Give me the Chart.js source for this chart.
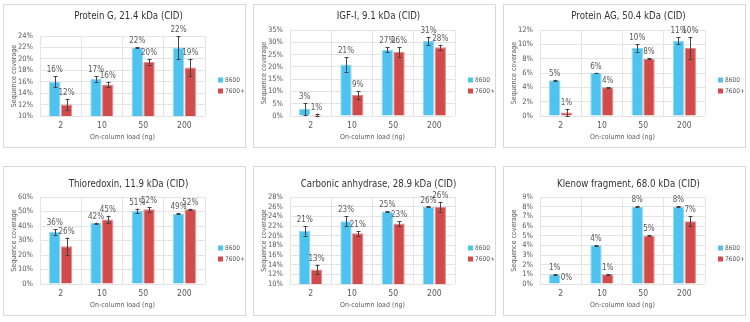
<!DOCTYPE html>
<html>
<head>
<meta charset="utf-8">
<script src="https://cdn.jsdelivr.net/npm/chart.js@4.4.0/dist/chart.umd.min.js"></script>
<style>
  body { margin: 0; background: #fff; width: 750px; height: 322px; position: relative; overflow: hidden; }
  .card { position: absolute; width: 243px; border: 1px solid #d9d9d9; box-sizing: border-box; }
  .card canvas { position: absolute; left: -1px; top: -1px; }
</style>
</head>
<body>
<div class="card" style="left:3px;top:4px;height:144px"><canvas id="c1" width="243" height="144"></canvas></div>
<div class="card" style="left:253px;top:4px;height:144px"><canvas id="c2" width="243" height="144"></canvas></div>
<div class="card" style="left:503px;top:4px;height:144px"><canvas id="c3" width="243" height="144"></canvas></div>
<div class="card" style="left:3px;top:166px;height:150px"><canvas id="c4" width="243" height="150"></canvas></div>
<div class="card" style="left:253px;top:166px;height:150px"><canvas id="c5" width="243" height="150"></canvas></div>
<div class="card" style="left:503px;top:166px;height:150px"><canvas id="c6" width="243" height="150"></canvas></div>
<script>
// categories
const loads = ['2', '10', '50', '200'];
const seriesNames = ['8600', '7600+'];

// Protein G
const proteinG8600 = [16, 16.5, 22, 22];
const proteinG8600Err = [1, 0.5, 0.05, 2];
const proteinG7600 = [12, 15.5, 19.5, 18.5];
const proteinG7600Err = [1, 0.5, 0.5, 1.5];

// IGF-I
const igf8600 = [2.8, 21, 27, 30.5];
const igf8600Err = [2.5, 3, 1, 1.7];
const igf7600 = [0.5, 8.5, 26, 28];
const igf7600Err = [0.5, 1.6, 2, 1];

// Protein AG
const proteinAG8600 = [5, 6, 9.5, 10.5];
const proteinAG8600Err = [0.05, 0.05, 0.5, 0.5];
const proteinAG7600 = [0.5, 4, 8, 9.5];
const proteinAG7600Err = [0.5, 0.05, 0.05, 1.5];

// Thioredoxin
const thio8600 = [36, 42, 50.5, 48.5];
const thio8600Err = [2, 0.3, 1.5, 0.5];
const thio7600 = [26, 44.5, 51.5, 51.5];
const thio7600Err = [6, 2.5, 1.5, 0.5];

// Carbonic anhydrase
const carb8600 = [21, 23, 25, 26];
const carb8600Err = [1, 1, 0.05, 0.05];
const carb7600 = [13, 20.5, 22.5, 26];
const carb7600Err = [1, 0.5, 0.5, 1];

// Klenow fragment
const klenow8600 = [1, 4, 8, 8];
const klenow8600Err = [0.03, 0.03, 0.03, 0.03];
const klenow7600 = [0, 1, 5, 6.5];
const klenow7600Err = [0, 0.03, 0.03, 0.5];

const blue = '#4ec3ef', blueEdge = '#8fd8f5';
const red = '#d24b4b', redEdge = '#e48c8c';
const txt = '#595959';
const fontFam = "'Liberation Sans Narrow', 'DejaVu Sans Condensed', Roboto, sans-serif";

// error bars, value labels, title and legend
const extras = {
  id: 'extras',
  afterDatasetsDraw(chart) {
    const ctx = chart.ctx;
    const y = chart.scales.y;
    ctx.save();
    chart.data.datasets.forEach((ds, i) => {
      chart.getDatasetMeta(i).data.forEach((bar, j) => {
        const v = ds.data[j], e = ds.errs[j];
        const top = y.getPixelForValue(v + e), bot = y.getPixelForValue(Math.max(v - e, y.min));
        if (v > 0) {
          ctx.strokeStyle = '#444';
          ctx.lineWidth = 1;
          ctx.beginPath();
          const x = Math.round(bar.x) + 0.5;
          ctx.moveTo(x, top); ctx.lineTo(x, bot);
          ctx.moveTo(x - 2, Math.round(top) + 0.5); ctx.lineTo(x + 2, Math.round(top) + 0.5);
          ctx.moveTo(x - 2, Math.round(bot) + 0.5); ctx.lineTo(x + 2, Math.round(bot) + 0.5);
          ctx.stroke();
        }
        ctx.fillStyle = txt;
        ctx.font = '8px ' + fontFam;
        ctx.textAlign = 'center';
        ctx.textBaseline = 'middle';
        ctx.fillText(Math.round(v) + '%', bar.x, top - 6);
      });
    });
    ctx.restore();
  },
  afterDraw(chart) {
    const o = chart.options.plugins.extras;
    const ctx = chart.ctx;
    ctx.save();
    ctx.fillStyle = '#333333';
    ctx.font = '9.6px ' + fontFam;
    ctx.textAlign = 'center';
    ctx.textBaseline = 'middle';
    ctx.fillText(o.title, chart.width / 2 + 4, o.titleY);
    ctx.font = '6.5px ' + fontFam;
    ctx.textAlign = 'left';
    chart.data.datasets.forEach((ds, i) => {
      const ly = o.legendY + i * 11;
      ctx.fillStyle = ds.backgroundColor;
      ctx.fillRect(215, ly - 2.5, 5, 5);
      ctx.fillStyle = txt;
      ctx.fillText(ds.label, 222, ly);
    });
    ctx.restore();
  }
};

function makeChart(id, title, d1, e1, d2, e2, yMin, yMax, step, plotTop, row) {
  const h = row === 1 ? 144 : 150;
  const plotBottom = row === 1 ? 112 : 118;
  new Chart(document.getElementById(id), {
    type: 'bar',
    data: {
      labels: loads,
      datasets: [
        { label: seriesNames[0], data: d1, errs: e1, backgroundColor: blue, borderColor: blueEdge, borderWidth: 1 },
        { label: seriesNames[1], data: d2, errs: e2, backgroundColor: red, borderColor: redEdge, borderWidth: 1 }
      ]
    },
    options: {
      responsive: false,
      animation: false,
      devicePixelRatio: 1,
      categoryPercentage: 0.57,
      barPercentage: 0.97,
      layout: { padding: { left: 0, right: 41, top: plotTop, bottom: 0 } },
      plugins: {
        legend: { display: false },
        tooltip: { enabled: false },
        extras: { title: title, titleY: row === 1 ? 12 : 18, legendY: row === 1 ? 76 : 82 }
      },
      scales: {
        x: {
          grid: { color: '#e4e4e4', drawTicks: false },
          border: { display: false },
          ticks: { color: txt, font: { family: fontFam, size: 8.5 }, padding: 5 },
          title: { display: true, text: 'On-column load (ng)', color: txt, font: { family: fontFam, size: 7 }, padding: { top: 0, bottom: 7 } },
          afterFit: s => { s.height = h - plotBottom; }
        },
        y: {
          min: yMin, max: yMax,
          grid: { color: '#e4e4e4', drawTicks: false },
          border: { display: false },
          ticks: { stepSize: step, autoSkip: false, color: txt, font: { family: fontFam, size: 7.5 }, padding: 7, callback: v => v + '%' },
          title: { display: true, text: 'Sequence coverage', color: txt, font: { family: fontFam, size: 7 }, padding: { top: 7, bottom: 0 } },
          afterFit: s => { s.width = 37; }
        }
      }
    },
    plugins: [extras]
  });
}

makeChart('c1', 'Protein G, 21.4 kDa (CID)', proteinG8600, proteinG8600Err, proteinG7600, proteinG7600Err, 10, 24, 2, 32, 1);
makeChart('c2', 'IGF-I, 9.1 kDa (CID)', igf8600, igf8600Err, igf7600, igf7600Err, 0, 35, 5, 26, 1);
makeChart('c3', 'Protein AG, 50.4 kDa (CID)', proteinAG8600, proteinAG8600Err, proteinAG7600, proteinAG7600Err, 0, 12, 2, 26, 1);
makeChart('c4', 'Thioredoxin, 11.9 kDa (CID)', thio8600, thio8600Err, thio7600, thio7600Err, 0, 60, 10, 31, 2);
makeChart('c5', 'Carbonic anhydrase, 28.9 kDa (CID)', carb8600, carb8600Err, carb7600, carb7600Err, 10, 28, 2, 31, 2);
makeChart('c6', 'Klenow fragment, 68.0 kDa (CID)', klenow8600, klenow8600Err, klenow7600, klenow7600Err, 0, 9, 1, 31, 2);
</script>
</body>
</html>
